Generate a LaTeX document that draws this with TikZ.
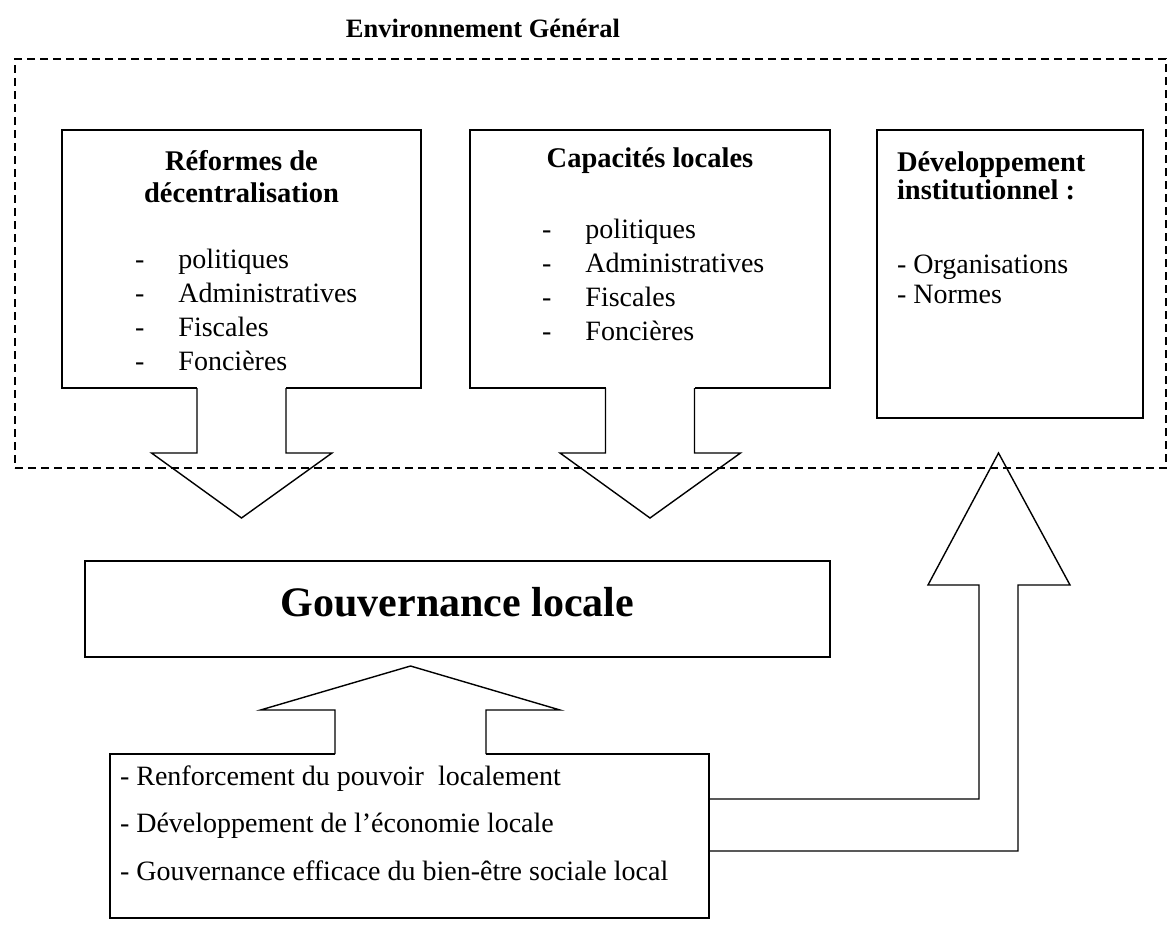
\documentclass[tikz,border=0pt]{standalone}
\usepackage{fontspec}
\setmainfont{Liberation Serif}
\usetikzlibrary{calc}
\newcommand{\tiretliste}{\makebox[43.5pt][l]{-}}

\begin{document}
\begin{tikzpicture}[
    x = 1pt, y = -1pt,
    every node/.style = {inner sep = 0pt, outer sep = 0pt},
    boite/.style = {draw, line width = 1.4pt},
    fleche/.style = {line width = 1.4pt, line join = miter},
    texte/.style = {font = \fontsize{28}{34}\selectfont, align = left},
    gras/.style = {font = \bfseries\fontsize{28.5}{32}\selectfont}]

\useasboundingbox (0,0) rectangle (1173,924);

\node[font = \bfseries\fontsize{26.5}{30}\selectfont] (env-titre) at (483,28) {Environnement Général};
\node[draw, dash pattern = on 8pt off 5pt, line width = 1.4pt,
      minimum width = 1151pt, minimum height = 409pt] (env) at (590.5,263.5) {};

\node[boite, minimum width = 359pt, minimum height = 258pt] (reformes) at (241.5,259) {};
\node[gras, align = center] (reformes-titre) at (241.5,177) {Réformes de\\décentralisation};
\node[texte, anchor = west] (reformes-liste) at (135,310)
    {\tiretliste politiques\\\tiretliste Administratives\\\tiretliste Fiscales\\\tiretliste Foncières};

\node[boite, minimum width = 360pt, minimum height = 258pt] (capacites) at (650,259) {};
\node[gras] (capacites-titre) at (650,161) {Capacités locales};
\node[texte, anchor = west] (capacites-liste) at (542,280)
    {\tiretliste politiques\\\tiretliste Administratives\\\tiretliste Fiscales\\\tiretliste Foncières};

\node[boite, minimum width = 266pt, minimum height = 288pt] (institution) at (1010,274) {};
\node[gras, align = left, anchor = west, font = \bfseries\fontsize{28.5}{28}\selectfont]
    (institution-titre) at (897,176) {Développement\\institutionnel :};
\node[texte, anchor = west, font = \fontsize{28}{30}\selectfont]
    (institution-liste) at (897,279) {- Organisations\\- Normes};

\node[boite, minimum width = 745pt, minimum height = 96pt] (gouvernance) at (457.5,609) {};
\node[font = \bfseries\fontsize{42}{48}\selectfont] (gouvernance-titre) at (457.5,602) {Gouvernance locale};

\node[boite, minimum width = 599pt, minimum height = 164pt] (bas) at (409.5,836) {};
\node[texte, anchor = west, font = \fontsize{28}{47.5}\selectfont] (bas-liste) at (120,823)
    {- Renforcement du pouvoir~ localement\\- Développement de l’économie locale\\- Gouvernance efficace du bien-être sociale local};

\foreach \b in {reformes, capacites} {
  \fill[white] ($(\b.south)+(-44.5,-2)$) rectangle ($(\b.south)+(44.5,2)$);
  \draw[fleche] ($(\b.south)+(-44.5,0)$) -- ++(0,65) -- ++(-45.5,0) -- ($(\b.south)+(0,130)$)
      -- ($(\b.south)+(90.5,65)$) -- ++(-46,0) -- ($(\b.south)+(44.5,0)$);
}

\fill[white] ($(bas.north)+(-74.5,-2)$) rectangle ($(bas.north)+(76.5,2)$);
\draw[fleche] ($(bas.north)+(-74.5,0)$) -- ++(0,-44) -- ++(-74.5,0) -- ($(bas.north)+(1,-88)$)
    -- ($(bas.north)+(150.5,-44)$) -- ++(-74,0) -- ($(bas.north)+(76.5,0)$);

\coordinate (pointe) at ($(institution.south)+(-11.5,35)$);
\draw[fleche] ($(bas.north east)+(0,45)$) -| ($(pointe)+(-19.5,132)$) -- ++(-51,0) -- (pointe)
    -- ($(pointe)+(71.5,132)$) -- ++(-52,0) |- ($(bas.north east)+(0,97)$);
\end{tikzpicture}
\end{document}
